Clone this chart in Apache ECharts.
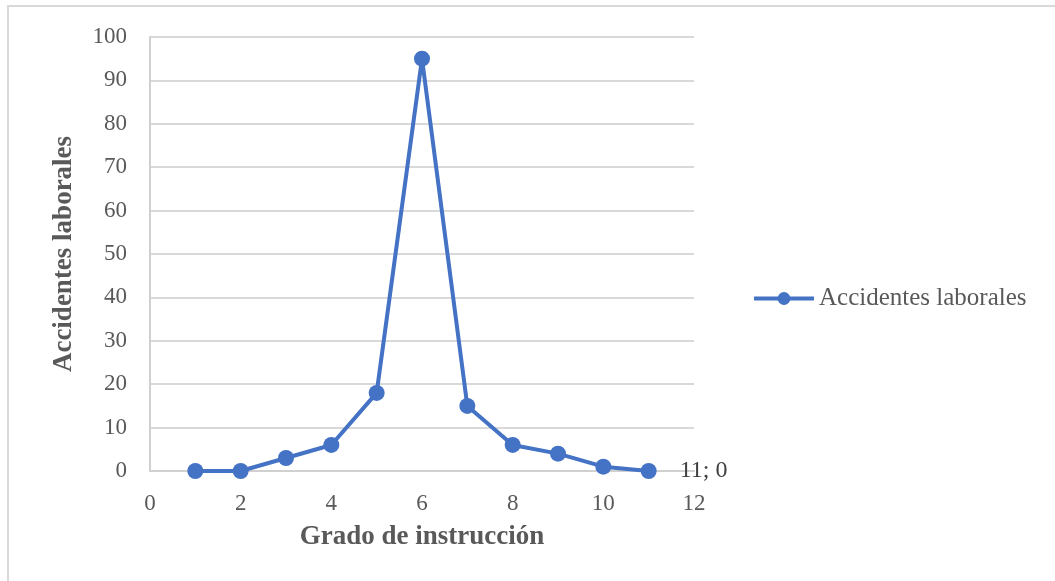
<!DOCTYPE html>
<html>
<head>
<meta charset="utf-8">
<script src="https://cdn.jsdelivr.net/npm/echarts@6/dist/echarts.min.js"></script>
<style>
html,body{margin:0;padding:0;background:#fff;}
#frame{position:absolute;left:7px;top:5px;width:1100px;height:620px;border:2px solid #d9d9d9;box-sizing:border-box;}
#chart{position:absolute;left:0;top:0;width:1055px;height:581px;}
</style>
</head>
<body>
<div id="frame"></div>
<div id="chart"></div>
<script>
const grado = [1, 2, 3, 4, 5, 6, 7, 8, 9, 10, 11];
const accidentes = [0, 0, 3, 6, 18, 95, 15, 6, 4, 1, 0];
const seriesName = 'Accidentes laborales';
const xTitle = 'Grado de instrucción';
const yTitle = 'Accidentes laborales';

const points = grado.map((g, i) => [g, accidentes[i]]);
const font = '"Liberation Serif", "Times New Roman", serif';

const chart = echarts.init(document.getElementById('chart'));
chart.setOption({
  animation: false,
  textStyle: { fontFamily: font },
  grid: { left: 150, right: 361, top: 37, bottom: 110, containLabel: false },
  legend: {
    data: [seriesName],
    left: 752, top: 286, padding: 0,
    itemWidth: 60, itemHeight: 16, itemGap: 5,
    lineStyle: { width: 4 },
    textStyle: { fontFamily: font, fontSize: 25, color: '#595959' }
  },
  xAxis: {
    type: 'value', min: 0, max: 12, interval: 2,
    name: xTitle, nameLocation: 'middle', nameGap: 53,
    nameTextStyle: { fontFamily: font, fontSize: 27, fontWeight: 'bold', color: '#595959' },
    axisLine: { show: true, lineStyle: { color: '#d0d0d0', width: 2 } },
    axisTick: { show: false },
    splitLine: { show: false },
    axisLabel: { margin: 21, fontFamily: font, fontSize: 23, color: '#595959' }
  },
  yAxis: {
    type: 'value', min: 0, max: 100, interval: 10,
    name: yTitle, nameLocation: 'middle', nameGap: 72,
    nameTextStyle: { fontFamily: font, fontSize: 27, fontWeight: 'bold', color: '#595959' },
    axisLine: { show: true, lineStyle: { color: '#d0d0d0', width: 2 } },
    axisTick: { show: false },
    splitLine: { show: true, lineStyle: { color: '#d9d9d9', width: 2 } },
    axisLabel: { margin: 23, fontFamily: font, fontSize: 23, color: '#595959' }
  },
  series: [{
    name: seriesName,
    type: 'line',
    data: points,
    symbol: 'circle',
    symbolSize: 16,
    lineStyle: { color: '#4472C4', width: 4 },
    itemStyle: { color: '#4472C4' },
    label: {
      show: true,
      position: 'right',
      distance: 23,
      fontFamily: font, fontSize: 24, color: '#404040',
      formatter: p => p.dataIndex === grado.length - 1 ? p.value[0] + '; ' + p.value[1] : ''
    }
  }]
});
</script>
</body>
</html>
